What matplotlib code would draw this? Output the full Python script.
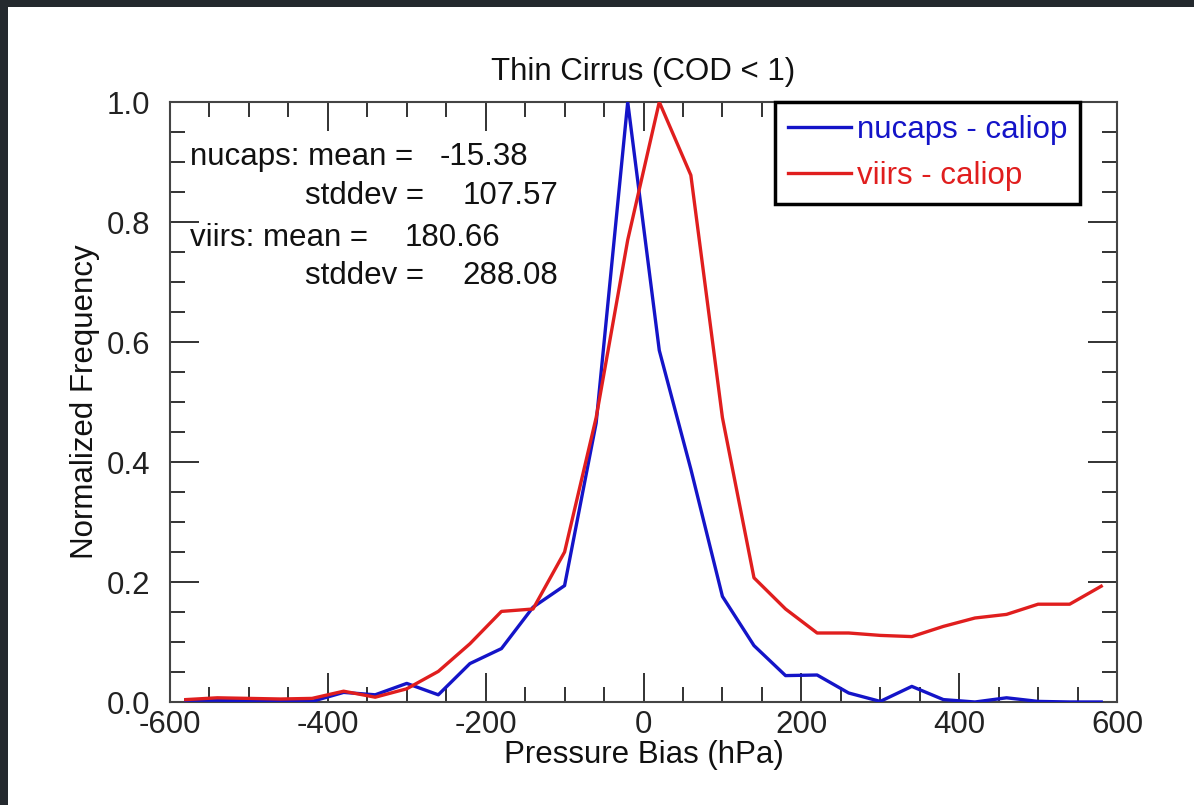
import matplotlib
matplotlib.use("Agg")
import matplotlib.pyplot as plt
from matplotlib.patches import Rectangle
from matplotlib.ticker import MultipleLocator, FormatStrFormatter

plt.rcParams['font.family'] = ['Liberation Sans', 'DejaVu Sans']

# Bin centers (hPa)
bias = [-580, -540, -500, -460, -420, -380, -340, -300, -260, -220,
        -180, -140, -100, -60, -20, 20, 60, 100, 140, 180,
        220, 260, 300, 340, 380, 420, 460, 500, 540, 580]

nucaps = [0.003, 0.003, 0.002, 0.002, 0.001, 0.016, 0.012, 0.031, 0.012, 0.064,
          0.089, 0.158, 0.194, 0.465, 1.000, 0.586, 0.388, 0.176, 0.094, 0.044,
          0.045, 0.015, 0.001, 0.026, 0.004, 0.000, 0.007, 0.001, 0.000, 0.000]

viirs = [0.004, 0.007, 0.006, 0.005, 0.006, 0.018, 0.008, 0.022, 0.051, 0.097,
         0.151, 0.155, 0.250, 0.474, 0.770, 1.000, 0.878, 0.474, 0.207, 0.155,
         0.115, 0.115, 0.111, 0.109, 0.126, 0.140, 0.146, 0.163, 0.163, 0.193]

title = "Thin Cirrus (COD < 1)"
xlabel = "Pressure Bias (hPa)"
ylabel = "Normalized Frequency"
labels = ["nucaps - caliop", "viirs - caliop"]
colors = ["#1414c8", "#e01e1e"]
stats = [("nucaps: mean =", "-15.38"), ("stddev =", "107.57"),
         ("viirs: mean =", "180.66"), ("stddev =", "288.08")]

FS = 22.5
W, H = 1194, 805
fig = plt.figure(figsize=(W / 100, H / 100), dpi=100)
fig.patch.set_facecolor("white")

# dark frame (top and left)
fig.patches.append(Rectangle((0, 1 - 7 / H), 1, 7 / H, transform=fig.transFigure,
                             facecolor="#24292e", edgecolor="none", zorder=0))
fig.patches.append(Rectangle((0, 0), 8 / W, 1, transform=fig.transFigure,
                             facecolor="#24292e", edgecolor="none", zorder=0))

left, right, top, bottom = 170, 1117, 102, 702
ax = fig.add_axes([left / W, 1 - bottom / H, (right - left) / W, (bottom - top) / H])

ax.plot(bias, nucaps, color=colors[0], lw=2.4, label=labels[0], zorder=3)
ax.plot(bias, viirs, color=colors[1], lw=2.4, label=labels[1], zorder=3)

ax.set_xlim(-600, 600)
ax.set_ylim(0, 1.0)
ax.xaxis.set_major_locator(MultipleLocator(200))
ax.xaxis.set_minor_locator(MultipleLocator(50))
ax.yaxis.set_major_locator(MultipleLocator(0.2))
ax.yaxis.set_minor_locator(MultipleLocator(0.05))
ax.yaxis.set_major_formatter(FormatStrFormatter('%.1f'))
ax.xaxis.set_major_formatter(FormatStrFormatter('%d'))

ax.tick_params(which='both', direction='in', top=True, right=True,
               labelsize=FS, colors='#222222', width=1.3)
ax.tick_params(which='major', length=21)
ax.tick_params(which='minor', length=11)
ax.tick_params(axis='x', which='major', pad=6)
ax.tick_params(axis='y', which='major', pad=14)
for s in ax.spines.values():
    s.set_linewidth(1.5)
    s.set_color('#444444')

ax.set_title(title, fontsize=FS, pad=16, color='#111111')
ax.set_xlabel(xlabel, fontsize=FS, labelpad=0, color='#111111')
ax.set_ylabel(ylabel, fontsize=FS, labelpad=5, color='#111111')

# statistics annotation
def fx(px):
    return (px - left) / (right - left)

def fy(py):
    return (bottom - py) / (bottom - top)

rows = [(190, 440, 157), (305, 463, 196), (190, 405, 238), (305, 462, 276)]
for (lab, val), (xl, xv, yy) in zip(stats, rows):
    ax.text(fx(xl), fy(yy), lab, transform=ax.transAxes, fontsize=FS,
            va='center', ha='left', color='#111111')
    ax.text(fx(xv), fy(yy), val, transform=ax.transAxes, fontsize=FS,
            va='center', ha='left', color='#111111')

leg = ax.legend(loc='upper left', bbox_to_anchor=(fx(775), 1.0),
                fontsize=FS, frameon=True, fancybox=False, shadow=False,
                handlelength=2.0, handletextpad=0.2, borderpad=0.42,
                labelspacing=0.5, borderaxespad=0)
leg.get_frame().set_edgecolor('black')
leg.get_frame().set_linewidth(2.5)
leg.get_frame().set_alpha(1.0)
for t, c in zip(leg.get_texts(), colors):
    t.set_color(c)

fig.savefig("out.png", dpi=100)
